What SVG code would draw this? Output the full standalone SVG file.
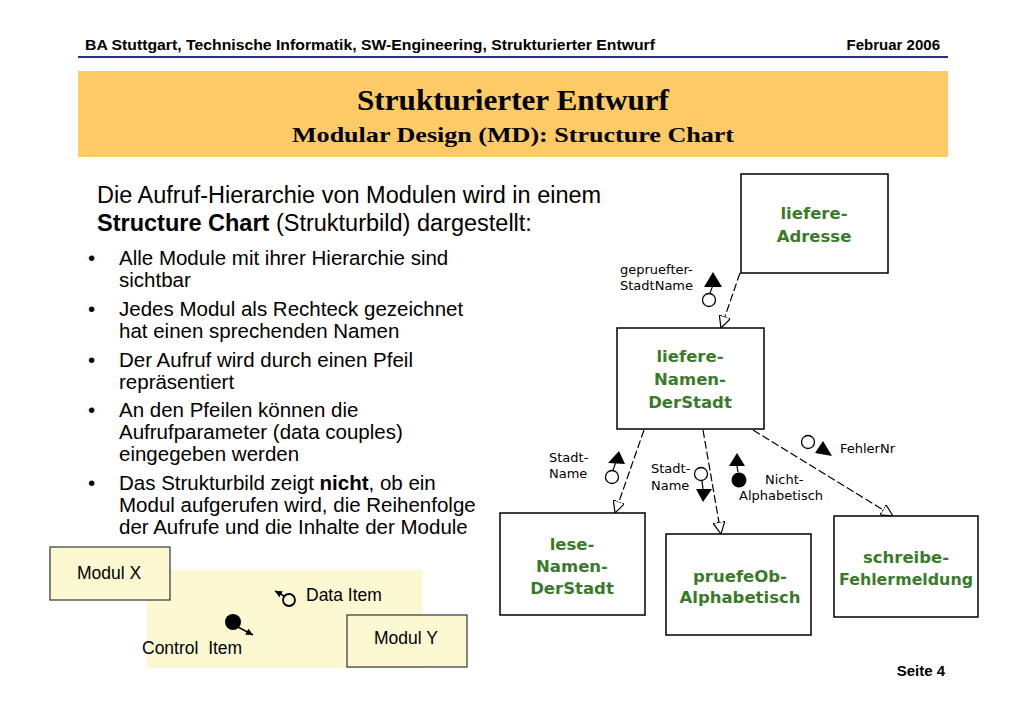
<svg xmlns="http://www.w3.org/2000/svg" width="1024" height="709" viewBox="0 0 1024 709">
<defs>
<style>
.hdr{font-family:"Liberation Sans",Arial,sans-serif;font-weight:bold;font-size:15px;fill:#000}
.ttl{font-family:"Liberation Serif","Times New Roman",serif;font-weight:bold;fill:#000;text-anchor:middle}
.body{font-family:"Liberation Sans",Arial,sans-serif;font-size:23.5px;fill:#000}
.bul{font-family:"Liberation Sans",Arial,sans-serif;font-size:20.5px;fill:#000}
.box{fill:#fff;stroke:#000;stroke-width:1.5}
.mod{font-family:"DejaVu Sans",Verdana,sans-serif;font-weight:bold;font-size:16.5px;fill:#3a7a2a;text-anchor:middle}
.lbl{font-family:"DejaVu Sans",Verdana,sans-serif;font-size:13px;fill:#000}
.con{fill:none;stroke:#000;stroke-width:1.2;stroke-dasharray:8,3}
.oc{fill:#fff;stroke:#000;stroke-width:1.3}
.lg{fill:#fcf8d2;stroke:#333;stroke-width:1.2}
.lgt{font-family:"Liberation Sans",Arial,sans-serif;font-size:17.5px;fill:#000;white-space:pre}
</style>
<marker id="open" viewBox="0 0 12 12" refX="12" refY="6" markerWidth="12" markerHeight="12" markerUnits="userSpaceOnUse" orient="auto">
<path d="M0,0 L12,6 L0,12 Z" fill="#fff" stroke="#000" stroke-width="1.2"/>
</marker>
<marker id="fill" viewBox="0 0 10 10" refX="10" refY="5" markerWidth="10" markerHeight="10" markerUnits="userSpaceOnUse" orient="auto">
<path d="M0,1 L10,5 L0,9 Z" fill="#000"/>
</marker>
<marker id="sm" viewBox="0 0 8 8" refX="8" refY="4" markerWidth="7" markerHeight="7" markerUnits="userSpaceOnUse" orient="auto">
<path d="M0,0 L8,4 L0,8 Z" fill="#000"/>
</marker>
</defs>
<rect width="1024" height="709" fill="#fff"/>

<!-- header -->
<text class="hdr" x="85" y="50" textLength="570" lengthAdjust="spacingAndGlyphs">BA Stuttgart, Technische Informatik, SW-Engineering, Strukturierter Entwurf</text>
<text class="hdr" x="940" y="50" text-anchor="end">Februar 2006</text>
<line x1="78" y1="57" x2="948" y2="57" stroke="#2e2e88" stroke-width="2"/>

<rect x="78" y="71" width="870" height="86" fill="#fdca66"/>
<text class="ttl" x="513" y="110" font-size="30" textLength="312" lengthAdjust="spacingAndGlyphs">Strukturierter Entwurf</text>
<text class="ttl" x="513" y="142" font-size="22" textLength="442" lengthAdjust="spacingAndGlyphs">Modular Design (MD): Structure Chart</text>

<!-- body text -->
<text class="body" x="97" y="203">Die Aufruf-Hierarchie von Modulen wird in einem</text>
<text class="body" x="97" y="231"><tspan font-weight="bold">Structure Chart</tspan> (Strukturbild) dargestellt:</text>

<g class="bul">
<text x="88" y="265">•</text><text x="119" y="265">Alle Module mit ihrer Hierarchie sind</text>
<text x="119" y="287">sichtbar</text>
<text x="88" y="316">•</text><text x="119" y="316">Jedes Modul als Rechteck gezeichnet</text>
<text x="119" y="338">hat einen sprechenden Namen</text>
<text x="88" y="367">•</text><text x="119" y="367">Der Aufruf wird durch einen Pfeil</text>
<text x="119" y="389">repräsentiert</text>
<text x="88" y="417">•</text><text x="119" y="417">An den Pfeilen können die</text>
<text x="119" y="439">Aufrufparameter (data couples)</text>
<text x="119" y="461">eingegeben werden</text>
<text x="88" y="490">•</text><text x="119" y="490">Das Strukturbild zeigt <tspan font-weight="bold">nicht</tspan>, ob ein</text>
<text x="119" y="512">Modul aufgerufen wird, die Reihenfolge</text>
<text x="119" y="534">der Aufrufe und die Inhalte der Module</text>
</g>

<!-- structure chart connectors -->
<g id="connectors">
<line class="con" x1="740" y1="273" x2="721" y2="328" marker-end="url(#open)"/>
<line class="con" x1="644" y1="430" x2="615" y2="513" marker-end="url(#open)"/>
<line class="con" x1="703" y1="430" x2="721" y2="534" marker-end="url(#open)"/>
<line class="con" x1="753" y1="430" x2="893" y2="516" marker-end="url(#open)"/>
<line x1="170" y1="578" x2="347" y2="646" stroke="#000" stroke-width="1.3" marker-end="url(#fill)"/>
</g>

<!-- nodes -->
<g id="n-liefere-adresse">
<rect class="box" x="741" y="174" width="147" height="99"/>
<text class="mod" x="814" y="219">liefere-</text>
<text class="mod" x="814" y="242">Adresse</text>
</g>
<g id="n-liefere-namen">
<rect class="box" x="617" y="328" width="147" height="101"/>
<text class="mod" x="690" y="362">liefere-</text>
<text class="mod" x="690" y="385">Namen-</text>
<text class="mod" x="690" y="408">DerStadt</text>
</g>
<g id="n-lese">
<rect class="box" x="500" y="513" width="145" height="102"/>
<text class="mod" x="572" y="550">lese-</text>
<text class="mod" x="572" y="572">Namen-</text>
<text class="mod" x="572" y="594">DerStadt</text>
</g>
<g id="n-pruefe">
<rect class="box" x="666" y="534" width="145" height="101"/>
<text class="mod" x="740" y="582">pruefeOb-</text>
<text class="mod" x="740" y="603">Alphabetisch</text>
</g>
<g id="n-schreibe">
<rect class="box" x="834" y="516" width="144" height="101"/>
<text class="mod" x="906" y="563">schreibe-</text>
<text class="mod" x="906" y="585" textLength="134" lengthAdjust="spacingAndGlyphs">Fehlermeldung</text>
</g>

<!-- data couples -->
<g id="couples">
<text class="lbl" x="620" y="274">gepruefter-</text>
<text class="lbl" x="620" y="290">StadtName</text>
<line x1="710" y1="293" x2="713" y2="285" stroke="#000" stroke-width="1.2"/>
<path d="M713,272 L722,287 L704,287 Z" fill="#000"/>
<circle class="oc" cx="709" cy="300" r="6.5"/>

<text class="lbl" x="549" y="462">Stadt-</text>
<text class="lbl" x="549" y="478">Name</text>
<line x1="613" y1="470" x2="616" y2="462" stroke="#000" stroke-width="1.2"/>
<path d="M619,451 L625,464 L608,463 Z" fill="#000"/>
<circle class="oc" cx="612" cy="477" r="6.5"/>

<text class="lbl" x="651" y="473">Stadt-</text>
<text class="lbl" x="651" y="490">Name</text>
<circle class="oc" cx="701" cy="474" r="6.5"/>
<line x1="702" y1="481" x2="703" y2="489" stroke="#000" stroke-width="1.2"/>
<path d="M703,502 L696,489 L712,489 Z" fill="#000"/>

<path d="M737,453 L745,466 L729,466 Z" fill="#000"/>
<line x1="737" y1="466" x2="738" y2="472" stroke="#000" stroke-width="1.2"/>
<circle cx="739" cy="480" r="7.5" fill="#000"/>
<text class="lbl" x="765" y="484">Nicht-</text>
<text class="lbl" x="739" y="500">Alphabetisch</text>

<circle class="oc" cx="808" cy="442" r="6.5"/>
<path d="M832,456 L815,453 L823,441 Z" fill="#000"/>
<text class="lbl" x="840" y="453">FehlerNr</text>
</g>

<!-- legend -->
<g id="legend">
<rect x="147" y="570" width="275" height="98" fill="#fcf8d2"/>
<text class="lgt" x="306" y="601">Data Item</text>
<circle cx="289" cy="600" r="6" fill="none" stroke="#000" stroke-width="1.8"/>
<line x1="284" y1="596" x2="275" y2="591" stroke="#000" stroke-width="1.5" marker-end="url(#sm)"/>
<circle cx="233" cy="622" r="8" fill="#000"/>
<line x1="238" y1="627" x2="253" y2="635" stroke="#000" stroke-width="1.5" marker-end="url(#sm)"/>
<text class="lgt" x="142" y="654" xml:space="preserve">Control  Item</text>
</g>
<g id="n-modul-x">
<rect class="lg" x="50" y="547" width="120" height="53"/>
<text class="lgt" x="109" y="579" text-anchor="middle">Modul X</text>
</g>
<g id="n-modul-y">
<rect class="lg" x="347" y="615" width="120" height="52"/>
<text class="lgt" x="406" y="644" text-anchor="middle">Modul Y</text>
</g>

<text class="hdr" x="945" y="676" text-anchor="end" font-size="14">Seite 4</text>
</svg>
